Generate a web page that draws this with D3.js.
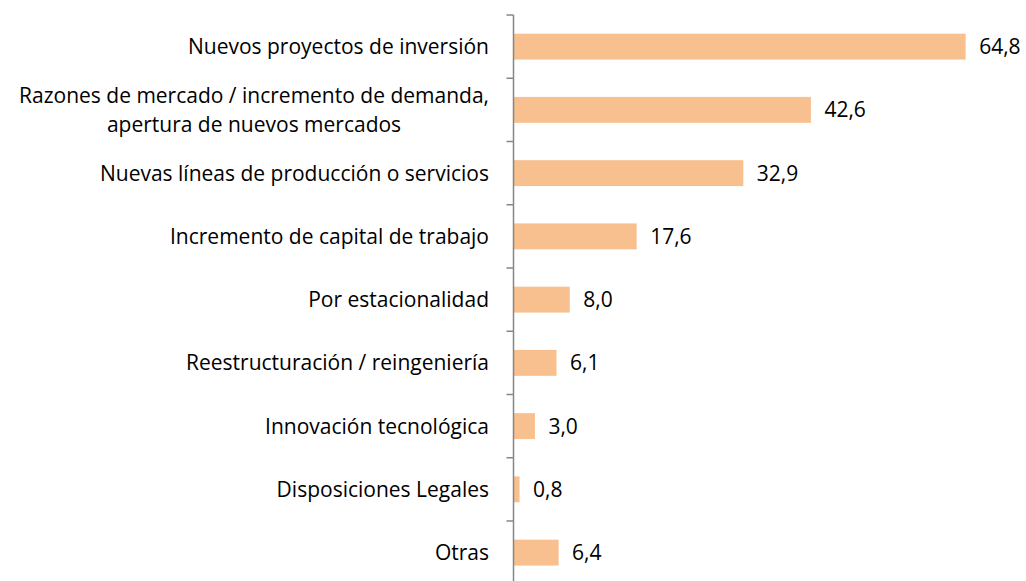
<!DOCTYPE html>
<html><head><meta charset="utf-8">
<script src="https://cdn.jsdelivr.net/npm/d3@7"></script>
<style>body{margin:0;background:#fff}svg{display:block}</style>
</head><body>
<svg id="c" width="1026" height="581"></svg>
<script>
const categories = [
  ["Nuevos proyectos de inversión"],
  ["Razones de mercado / incremento de demanda,", "apertura de nuevos mercados"],
  ["Nuevas líneas de producción o servicios"],
  ["Incremento de capital de trabajo"],
  ["Por estacionalidad"],
  ["Reestructuración / reingeniería"],
  ["Innovación tecnológica"],
  ["Disposiciones Legales"],
  ["Otras"]
];
const values = [64.8, 42.6, 32.9, 17.6, 8.0, 6.1, 3.0, 0.8, 6.4];
const valueLabels = ["64,8", "42,6", "32,9", "17,6", "8,0", "6,1", "3,0", "0,8", "6,4"];

const svg = d3.select("#c");
const axisX = 513.5;
const font = "'Open Sans', sans-serif";
const fs = 21;
const x = d3.scaleLinear().domain([0, 70]).range([axisX, axisX + 70 * 6.97]);
const idx = d3.range(values.length);
const y = d3.scaleBand().domain(idx).range([15, 15 + 63.25 * 9]).paddingInner(0.59).paddingOuter(0.295);

// bars
svg.selectAll("rect.bar").data(idx).join("rect")
  .attr("class", "bar")
  .attr("x", x(0) + 0.5)
  .attr("y", i => y(i))
  .attr("width", i => x(values[i]) - x(0))
  .attr("height", y.bandwidth())
  .attr("fill", "#F9C08F");

// axis line and ticks
const yEdge = d3.scaleLinear().domain([0, 9]).range([15, 15 + 63.25 * 9]);
svg.append("line").attr("x1", axisX).attr("x2", axisX).attr("y1", 15).attr("y2", 600)
  .attr("stroke", "#868686").attr("stroke-width", 1.5);
svg.selectAll("line.tick").data(d3.range(0, 10)).join("line")
  .attr("class", "tick")
  .attr("x1", axisX - 7).attr("x2", axisX)
  .attr("y1", d => yEdge(d)).attr("y2", d => yEdge(d))
  .attr("stroke", "#868686").attr("stroke-width", 1.5);

// value labels
svg.selectAll("text.val").data(idx).join("text")
  .attr("class", "val")
  .attr("x", i => x(values[i]) + 14)
  .attr("y", i => y(i) + y.bandwidth() / 2)
  .attr("dy", "0.36em")
  .attr("font-family", font).attr("font-size", fs).attr("fill", "#000")
  .text(i => valueLabels[i]);

// category labels (one text element per category; extra lines as tspans)
const rightEdge = 489;
const lineH = 29;
idx.forEach(i => {
  const lines = categories[i];
  const cy = y(i) + y.bandwidth() / 2;
  const t = svg.append("text")
    .attr("font-family", font).attr("font-size", fs).attr("fill", "#000");
  const spans = lines.map((ln, k) => t.append("tspan")
    .attr("y", cy + (k - (lines.length - 1) / 2) * lineH)
    .attr("dy", "0.36em")
    .text(ln));
  if (lines.length === 1) {
    t.attr("text-anchor", "end");
    spans[0].attr("x", rightEdge);
  } else {
    spans.forEach(s => s.attr("x", 0));
    const maxW = d3.max(spans, s => s.node().getComputedTextLength());
    t.attr("text-anchor", "middle");
    spans.forEach(s => s.attr("x", rightEdge - maxW / 2));
  }
});
</script>
</body></html>
